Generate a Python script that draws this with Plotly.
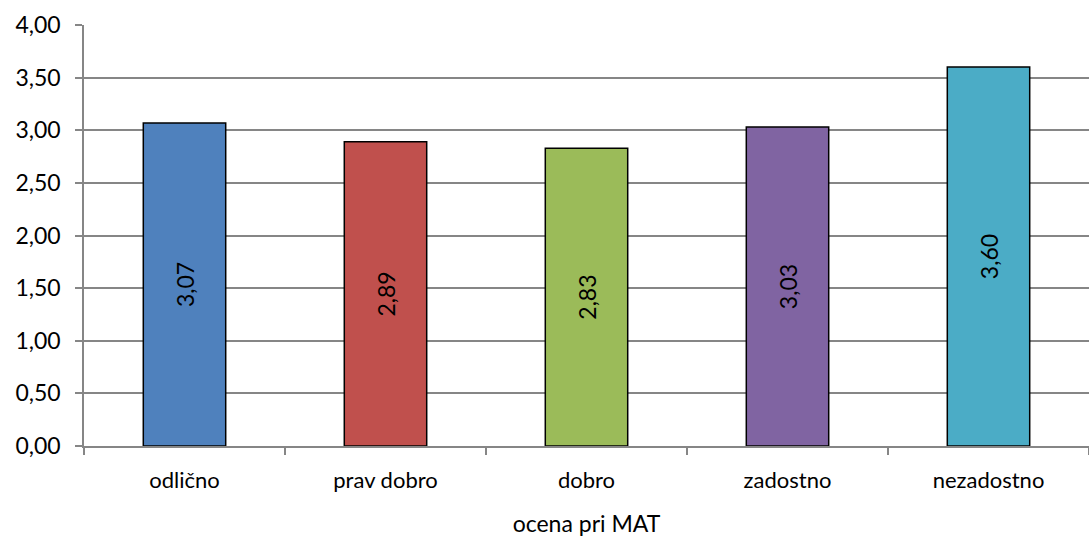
import plotly.graph_objects as go

categories = ["odlično", "prav dobro", "dobro", "zadostno", "nezadostno"]
values = [3.07, 2.89, 2.83, 3.03, 3.60]
colors = ["#4F81BD", "#C0504D", "#9BBB59", "#8064A2", "#4BACC6"]
y_ticks = [0, 0.5, 1, 1.5, 2, 2.5, 3, 3.5, 4]
y_tick_labels = [f"{v:.2f}".replace(".", ",") for v in y_ticks]
axis_title = "ocena pri MAT"

font_family = "Lato, 'Open Sans', sans-serif"

fig = go.Figure(
    go.Bar(
        x=categories,
        y=values,
        marker=dict(color=colors, line=dict(color="#000000", width=1.5)),
        text=[f"{v:.2f}".replace(".", ",") for v in values],
        textposition="inside",
        textangle=-90,
        insidetextanchor="middle",
        textfont=dict(family=font_family, size=23, color="#000000"),
        cliponaxis=False,
    )
)

fig.update_layout(
    width=1089,
    height=538,
    margin=dict(l=84, r=0, t=25, b=92),
    paper_bgcolor="white",
    plot_bgcolor="white",
    bargap=0.59,
    showlegend=False,
    font=dict(family=font_family, size=23, color="#000000"),
    xaxis=dict(
        showline=True,
        linecolor="#868686",
        linewidth=1.5,
        ticks="outside",
        tickson="boundaries",
        ticklen=7,
        tickcolor="#868686",
        tickwidth=1.5,
        showgrid=False,
        tickfont=dict(size=22),
        ticklabelstandoff=14,
        title=dict(text=axis_title, font=dict(size=23), standoff=24),
    ),
    yaxis=dict(
        range=[0, 4],
        tickvals=y_ticks,
        ticktext=y_tick_labels,
        showline=True,
        linecolor="#868686",
        linewidth=1.5,
        ticks="outside",
        ticklen=7,
        tickcolor="#868686",
        tickwidth=1.5,
        showgrid=True,
        gridcolor="#868686",
        gridwidth=1.5,
        zeroline=False,
        tickfont=dict(size=23),
        ticklabelstandoff=10,
    ),
)

fig.write_html("out.html")
